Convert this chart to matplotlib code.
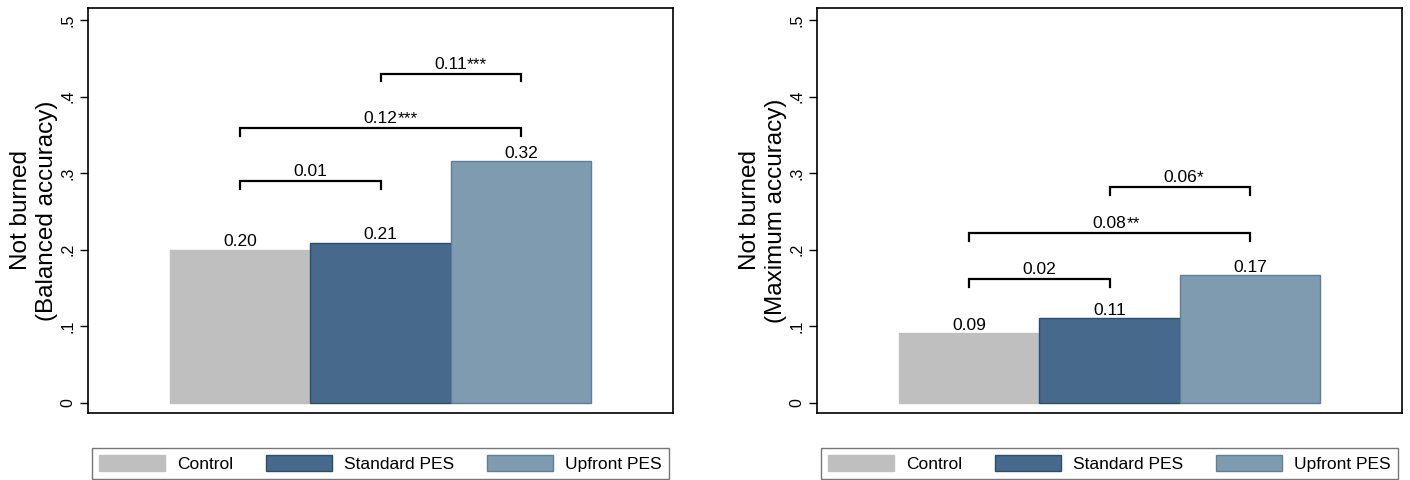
import matplotlib
matplotlib.use("Agg")
import matplotlib.pyplot as plt
from matplotlib.patches import Patch

plt.rcParams['font.family'] = ['Liberation Sans', 'DejaVu Sans']

groups = ["Control", "Standard PES", "Upfront PES"]
colors = ["#bfbfbf", "#476a8c", "#7f9bb0"]
edges = ["#bfbfbf", "#2b4d6e", "#5e7f9c"]

ylabels = ["Not burned\n(Balanced accuracy)", "Not burned\n(Maximum accuracy)"]
values_balanced = [0.20, 0.209, 0.316]
values_maximum = [0.091, 0.111, 0.167]

# brackets: (from bar, to bar, height, number, stars)
brackets_balanced = [(0, 1, 0.29, "0.01", ""),
                     (0, 2, 0.359, "0.12", "***"),
                     (1, 2, 0.43, "0.11", "***")]
brackets_maximum = [(0, 1, 0.162, "0.02", ""),
                    (0, 2, 0.222, "0.08", "**"),
                    (1, 2, 0.282, "0.06", "*")]

yticks = [0, 0.1, 0.2, 0.3, 0.4, 0.5]
yticklabels = ["0", ".1", ".2", ".3", ".4", ".5"]

fig = plt.figure(figsize=(14.1, 4.8), dpi=100)
ax1 = fig.add_axes([88/1410, 1-413/480, 585/1410, 405/480])
ax2 = fig.add_axes([817/1410, 1-413/480, 585/1410, 405/480])

panels = [(ax1, values_balanced, brackets_balanced, ylabels[0]),
          (ax2, values_maximum, brackets_maximum, ylabels[1])]

x = [1, 2, 3]
for ax, vals, brs, lab in panels:
    ax.bar(x, vals, width=1.0, color=colors, edgecolor=edges, linewidth=1.0)
    for xi, v in zip(x, vals):
        ax.annotate("%.2f" % v, xy=(xi, v), xytext=(0, 2.5), textcoords="offset points",
                    ha="center", va="baseline", fontsize=12.5)
    for a, b, h, num, stars in brs:
        ax.plot([x[a], x[a], x[b], x[b]], [h - 0.01, h, h, h - 0.01],
                color="black", lw=1.6, solid_joinstyle="miter")
        t = ax.annotate(num, xy=((x[a] + x[b]) / 2, h), xytext=(0, 3.5),
                        textcoords="offset points", ha="center", va="baseline", fontsize=12.5)
        if stars:
            ax.annotate(stars, xy=(1, 0), xycoords=t, ha="left", va="bottom", fontsize=12.5)
    ax.set_xlim(-0.08, 4.08)
    ax.set_ylim(-0.013, 0.5157)
    ax.set_xticks([])
    ax.set_yticks(yticks)
    ax.set_yticklabels(yticklabels, rotation=90, va="center", fontsize=11.5)
    ax.tick_params(axis="y", length=5.5, width=1.0, pad=3.5)
    ax.set_ylabel(lab, fontsize=17.5, labelpad=2)
    for s in ax.spines.values():
        s.set_linewidth(1.2)

    handles = [Patch(facecolor=c, edgecolor=e, linewidth=1.0) for c, e in zip(colors, edges)]
    leg = ax.legend(handles, groups, loc="upper center", ncol=3, fontsize=12.5,
                    bbox_to_anchor=(0.5, -0.086), frameon=True, fancybox=False,
                    handlelength=3.8, handleheight=1.05, handletextpad=0.7,
                    columnspacing=1.9, borderpad=0.4, borderaxespad=0)
    leg.get_frame().set_edgecolor("#555555")
    leg.get_frame().set_linewidth(1.0)

fig.savefig("out.png", dpi=100)
